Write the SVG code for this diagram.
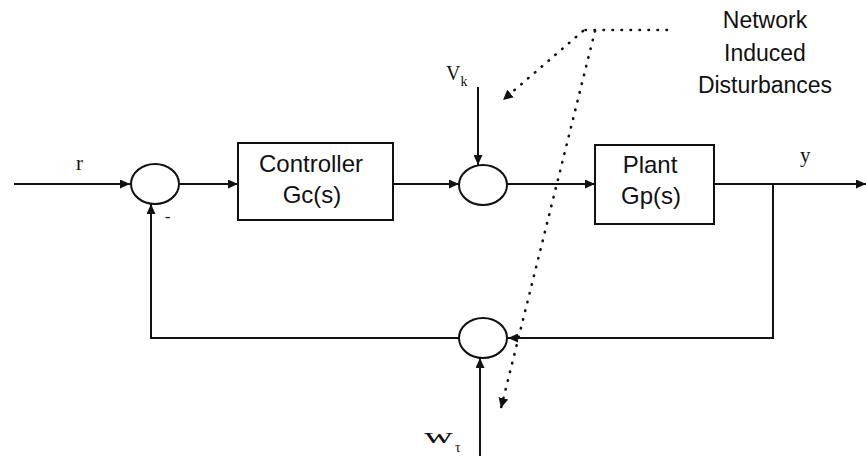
<svg xmlns="http://www.w3.org/2000/svg" width="866" height="456" viewBox="0 0 866 456">
<defs>
<marker id="arr" markerUnits="userSpaceOnUse" markerWidth="11" markerHeight="9" refX="10" refY="4.5" orient="auto">
<path d="M0,0 L10,4.5 L0,9 z" fill="#111"/>
</marker>
<marker id="darr" markerUnits="userSpaceOnUse" markerWidth="11" markerHeight="10" refX="10" refY="5" orient="auto">
<path d="M0,0 L10,5 L0,10 z" fill="#111"/>
</marker>
</defs>
<style>
.ln{stroke:#111;stroke-width:2;fill:none}
.box{stroke:#111;stroke-width:2;fill:#fff}
.sum{stroke:#111;stroke-width:2;fill:#fff}
.dot{stroke:#111;stroke-width:2.6;fill:none;stroke-dasharray:0.5 8.5;stroke-linecap:round}
.sans{font-family:"Liberation Sans",Arial,sans-serif;fill:#111}
.serif{font-family:"Liberation Serif","Times New Roman",serif;fill:#111}
</style>
<rect width="866" height="456" fill="#fff"/>
<g id="connectors">
<line class="ln" x1="14" y1="184" x2="130" y2="184" marker-end="url(#arr)"/>
<line class="ln" x1="180" y1="184" x2="238" y2="184" marker-end="url(#arr)"/>
<line class="ln" x1="393" y1="184" x2="459" y2="184" marker-end="url(#arr)"/>
<line class="ln" x1="478" y1="87" x2="478" y2="165" marker-end="url(#arr)"/>
<line class="ln" x1="507" y1="184" x2="595" y2="184" marker-end="url(#arr)"/>
<line class="ln" x1="714" y1="184" x2="866" y2="184" marker-end="url(#arr)"/>
<polyline class="ln" points="773,184 773,338 508,338" marker-end="url(#arr)"/>
<polyline class="ln" points="459,338 151,338 151,204" marker-end="url(#arr)"/>
<line class="ln" x1="480" y1="456" x2="480" y2="358" marker-end="url(#arr)"/>
<line class="dot" x1="667" y1="30" x2="583" y2="30"/>
<line class="dot" x1="583" y1="31" x2="503" y2="100" marker-end="url(#darr)"/>
<line class="dot" x1="595" y1="31" x2="501" y2="408" marker-end="url(#darr)"/>
</g>
<g id="sum1"><ellipse class="sum" cx="155" cy="184" rx="24" ry="20"/></g>
<g id="controller">
<rect class="box" x="238" y="143" width="155" height="77"/>
<text class="sans" x="311" y="172" font-size="24" text-anchor="middle">Controller</text>
<text class="sans" x="312" y="203" font-size="24" text-anchor="middle">Gc(s)</text>
</g>
<g id="sum2"><ellipse class="sum" cx="483" cy="185" rx="24" ry="20"/></g>
<g id="plant">
<rect class="box" x="595" y="145" width="119" height="79"/>
<text class="sans" x="650" y="173" font-size="24" text-anchor="middle">Plant</text>
<text class="sans" x="651" y="204" font-size="24" text-anchor="middle">Gp(s)</text>
</g>
<g id="sum3"><ellipse class="sum" cx="483" cy="338" rx="24" ry="20"/></g>
<g id="labels">
<text class="serif" x="76" y="170" font-size="21">r</text>
<text class="serif" x="165" y="222" font-size="16">-</text>
<text class="serif" x="800" y="162" font-size="21">y</text>
<text class="serif" x="446" y="80" font-size="20">V<tspan font-size="14" dy="6">k</tspan></text>
<text class="serif" x="424" y="443" font-size="20" textLength="29" lengthAdjust="spacingAndGlyphs">w</text>
<text class="serif" x="455" y="452" font-size="14">τ</text>
</g>
<g id="note">
<text class="sans" x="765" y="28" font-size="23" text-anchor="middle">Network</text>
<text class="sans" x="765" y="61" font-size="23" text-anchor="middle">Induced</text>
<text class="sans" x="765" y="93" font-size="23" text-anchor="middle">Disturbances</text>
</g>
</svg>
